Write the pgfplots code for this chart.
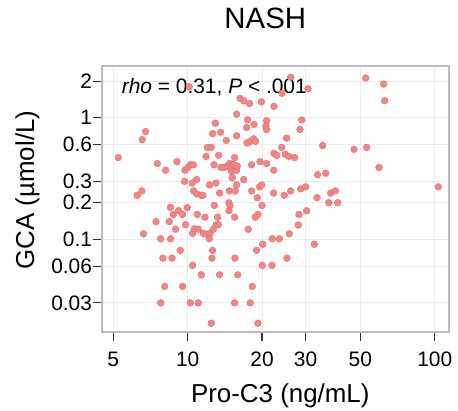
\documentclass[border=0pt]{standalone}
\usepackage{fontspec}
\setmainfont{Liberation Sans}
\usepackage{pgfplots}
\usepackage{pgfplotstable}
\pgfplotsset{compat=1.18}

\definecolor{pt}{RGB}{241,134,134}
\definecolor{ptedge}{RGB}{224,112,112}
\definecolor{boxgray}{RGB}{188,188,188}
\definecolor{gridgray}{RGB}{236,236,236}

% Pro-C3 (ng/mL) vs GCA (umol/L), NASH group
\pgfplotstableread{
x y
5.24 0.47
6.76 0.77
6.55 0.66
6.25 0.23
6.53 0.25
6.63 0.111
7.54 0.42
8.14 0.37
9.05 0.435
7.45 0.14
7.78 0.101
7.94 0.070
8.07 0.041
7.78 0.030
8.43 0.14
8.53 0.183
8.75 0.16
8.94 0.121
8.53 0.101
8.64 0.070
9.19 0.172
9.54 0.16
9.97 0.182
9.81 0.132
9.34 0.081
9.54 0.041
9.72 0.30
9.75 0.37
10.03 0.39
10.28 0.41
10.54 0.41
10.44 0.29
10.87 0.31
10.57 0.25
10.90 0.236
11.39 0.23
11.53 0.23
10.47 0.112
10.64 0.122
11.04 0.121
10.94 0.16
11.75 0.152
11.57 0.112
11.93 0.110
12.31 0.112
12.23 0.101
12.70 0.121
13.02 0.131
13.31 0.132
13.22 0.152
12.82 0.19
12.62 0.081
12.54 0.070
10.47 0.061
11.36 0.051
10.25 0.030
11.04 0.030
13.47 0.051
12.46 0.0204
10.15 1.80
11.86 0.48
12.01 0.57
12.46 0.57
12.62 0.74
12.94 0.90
13.60 0.76
13.35 0.49
12.78 0.41
13.02 0.29
12.27 0.28
13.47 0.24
14.34 0.65
13.64 0.39
14.03 0.39
14.52 0.40
14.79 0.42
14.97 0.38
15.07 0.36
15.21 0.41
15.49 0.47
15.78 0.37
15.40 0.41
15.88 0.40
15.16 0.32
15.78 0.28
14.74 0.25
15.59 0.25
14.70 0.20
14.83 0.189
14.70 0.172
15.49 0.152
16.86 0.31
16.29 1.44
16.86 1.38
17.82 1.31
15.78 1.07
15.78 0.71
17.49 0.96
17.33 0.83
18.55 0.88
17.38 0.62
17.98 0.64
18.49 0.67
18.84 0.64
18.15 0.41
19.62 0.435
20.88 0.42
18.15 0.25
19.14 0.22
19.56 0.27
19.93 0.28
19.99 0.19
19.26 0.16
18.78 0.152
17.60 0.121
15.54 0.070
15.94 0.051
18.27 0.041
15.49 0.030
17.93 0.030
19.26 0.0204
19.02 0.081
20.12 0.091
20.06 0.061
21.94 0.061
22.01 0.101
23.50 0.101
25.23 0.070
25.80 0.111
19.87 1.35
22.36 1.24
20.88 0.945
20.75 0.855
20.88 0.80
22.36 0.51
22.92 0.49
22.29 0.37
24.02 0.57
24.85 0.50
25.16 0.68
25.70 0.48
27.10 0.47
24.09 1.59
26.12 2.15
30.69 1.73
28.49 0.80
28.93 0.96
22.29 0.24
24.61 0.23
26.12 0.25
28.67 0.26
30.03 0.27
28.22 0.16
28.05 0.131
30.31 0.172
33.38 0.22
33.58 0.34
36.20 0.35
37.22 0.20
37.92 0.24
39.61 0.25
40.47 0.20
32.56 0.091
35.19 0.59
47.13 0.55
53.04 0.57
59.50 0.39
52.54 2.12
62.14 1.89
62.72 1.38
103.4 0.27
}\nash

\begin{document}
\begin{tikzpicture}
\path[use as bounding box] (0bp,0bp) rectangle (458bp,-411bp);
\begin{axis}[
    at={(102.2bp,-331.7bp)}, anchor=south west,
    width=346.5bp, height=265.5bp, scale only axis,
    xmode=log, ymode=log,
    xmin=4.51, xmax=113.9, ymin=0.01738, ymax=2.652,
    xtick={5,10,20,30,50,100}, xticklabels={5,10,20,30,50,100},
    ytick={0.03,0.06,0.1,0.2,0.3,0.6,1,2},
    yticklabels={0.03,0.06,0.1,0.2,0.3,0.6,1,2},
    xminorticks=false, yminorticks=false,
    /pgf/number format/assume math mode=true,
    grid=major,
    major grid style={gridgray, line width=1bp},
    axis line style={boxgray, line width=2.4bp},
    tick align=outside, tick pos=left,
    major tick length=9bp,
    tick style={black!80, line width=1.2bp},
    tick label style={font=\fontsize{21}{24}\selectfont},
    yticklabel style={inner xsep=1bp},
    xticklabel style={yshift=-8bp},
    title={NASH},
    title style={at={(0.4707,1.1194)}, anchor=base, font=\fontsize{29.5}{32}\selectfont},
    xlabel={Pro-C3 (ng/mL)},
    xlabel style={at={(0.514,-0.2648)}, anchor=base, font=\fontsize{26}{30}\selectfont},
    ylabel={GCA (µmol/L)},
    ylabel style={at={(-0.1968,0.5337)}, anchor=base, font=\fontsize{26}{30}\selectfont},
]
\addplot[only marks, mark=*, mark size=3.4bp,
    mark options={fill=pt, draw=ptedge, line width=0.4bp}] table[x=x, y=y] {\nash};
\node[anchor=base west, font=\fontsize{21}{24}\selectfont]
    at (rel axis cs:0.0465,0.899) {\textit{rho} = 0.31, \textit{P} < .001};
\end{axis}
\end{tikzpicture}
\end{document}
